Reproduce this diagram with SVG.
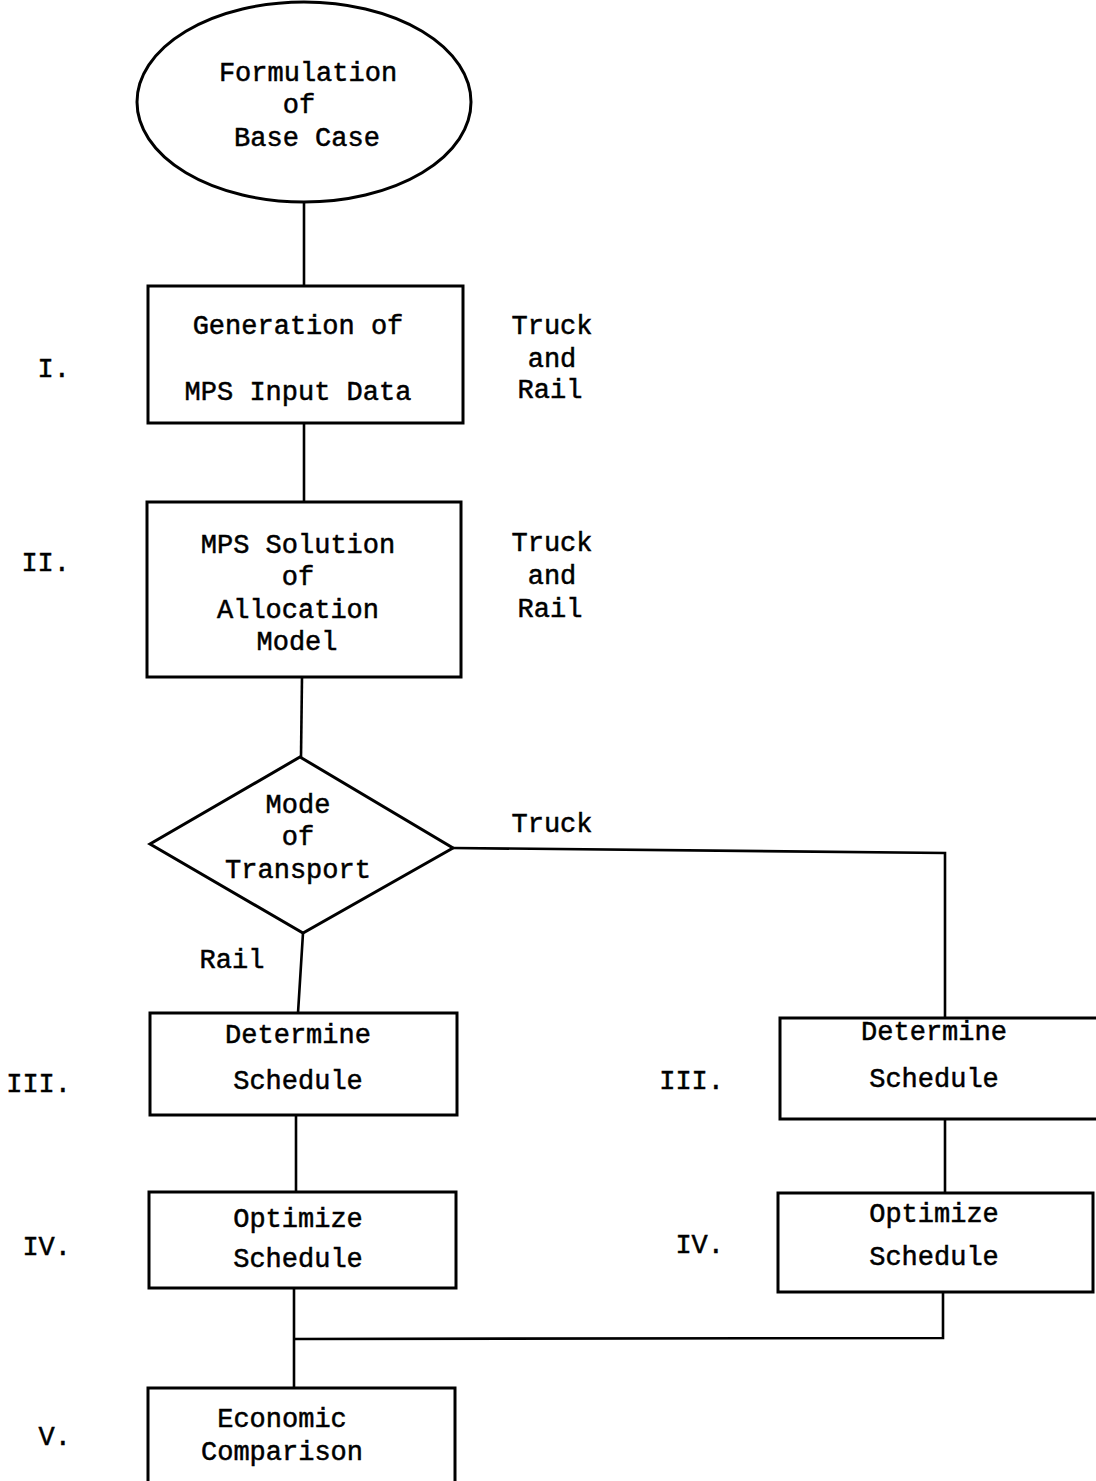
<svg xmlns="http://www.w3.org/2000/svg" width="1096" height="1481" viewBox="0 0 1096 1481">
<style>
  .shape { fill: none; stroke: #000; stroke-width: 3; }
  .conn { fill: none; stroke: #000; stroke-width: 2.6; }
  text { font-family: "Liberation Mono", "DejaVu Sans Mono", monospace; font-size: 27px; fill: #000; stroke: #000; stroke-width: 0.5; }
  .c { text-anchor: middle; }
  .e { text-anchor: end; }
</style>
<rect width="1096" height="1481" fill="#fff"/>

<g id="connectors">
  <polyline class="conn" points="304,202 304,286"/>
  <polyline class="conn" points="304,423 304,502"/>
  <polyline class="conn" points="302,677 301,757"/>
  <polyline class="conn" points="453,848 945,853 945,1018"/>
  <polyline class="conn" points="303,933 298,1013"/>
  <polyline class="conn" points="296,1115 296,1192"/>
  <polyline class="conn" points="945,1118 945,1194"/>
  <polyline class="conn" points="294,1288 294,1388"/>
  <polyline class="conn" points="943,1292 943,1338 294,1339"/>
</g>

<g id="base-case">
  <ellipse class="shape" cx="304" cy="102" rx="167" ry="100"/>
  <text class="c" x="308" y="81">Formulation</text>
  <text class="c" x="299" y="113">of</text>
  <text class="c" x="307" y="146">Base Case</text>
</g>

<g id="generation">
  <rect class="shape" x="148" y="286" width="315" height="137"/>
  <text class="c" x="298" y="334">Generation of</text>
  <text class="c" x="298" y="400">MPS Input Data</text>
  <text class="e" x="70" y="377">I.</text>
  <text class="c" x="552" y="334">Truck</text>
  <text class="c" x="552" y="367">and</text>
  <text class="c" x="550" y="398">Rail</text>
</g>

<g id="solution">
  <rect class="shape" x="147" y="502" width="314" height="175"/>
  <text class="c" x="298" y="553">MPS Solution</text>
  <text class="c" x="298" y="585">of</text>
  <text class="c" x="298" y="618">Allocation</text>
  <text class="c" x="297" y="650">Model</text>
  <text class="e" x="70" y="571">II.</text>
  <text class="c" x="552" y="551">Truck</text>
  <text class="c" x="552" y="584">and</text>
  <text class="c" x="550" y="617">Rail</text>
</g>

<g id="mode">
  <polygon class="shape" points="300,757 453,848 303,933 150,844"/>
  <text class="c" x="298" y="813">Mode</text>
  <text class="c" x="298" y="845">of</text>
  <text class="c" x="298" y="878">Transport</text>
  <text class="c" x="552" y="832">Truck</text>
  <text class="c" x="232" y="968">Rail</text>
</g>

<g id="determine-rail">
  <rect class="shape" x="150" y="1013" width="307" height="102"/>
  <text class="c" x="298" y="1043">Determine</text>
  <text class="c" x="298" y="1089">Schedule</text>
  <text class="e" x="71" y="1092">III.</text>
</g>

<g id="optimize-rail">
  <rect class="shape" x="149" y="1192" width="307" height="96"/>
  <text class="c" x="298" y="1227">Optimize</text>
  <text class="c" x="298" y="1267">Schedule</text>
  <text class="e" x="71" y="1255">IV.</text>
</g>

<g id="determine-truck">
  <rect class="shape" x="780" y="1018" width="340" height="101"/>
  <text class="c" x="934" y="1040">Determine</text>
  <text class="c" x="934" y="1087">Schedule</text>
  <text class="e" x="724" y="1089">III.</text>
</g>

<g id="optimize-truck">
  <rect class="shape" x="778" y="1193" width="315" height="99"/>
  <text class="c" x="934" y="1222">Optimize</text>
  <text class="c" x="934" y="1265">Schedule</text>
  <text class="e" x="724" y="1253">IV.</text>
</g>

<g id="economic">
  <rect class="shape" x="148" y="1388" width="307" height="120"/>
  <text class="c" x="282" y="1427">Economic</text>
  <text class="c" x="282" y="1460">Comparison</text>
  <text class="e" x="71" y="1445">V.</text>
</g>
</svg>
